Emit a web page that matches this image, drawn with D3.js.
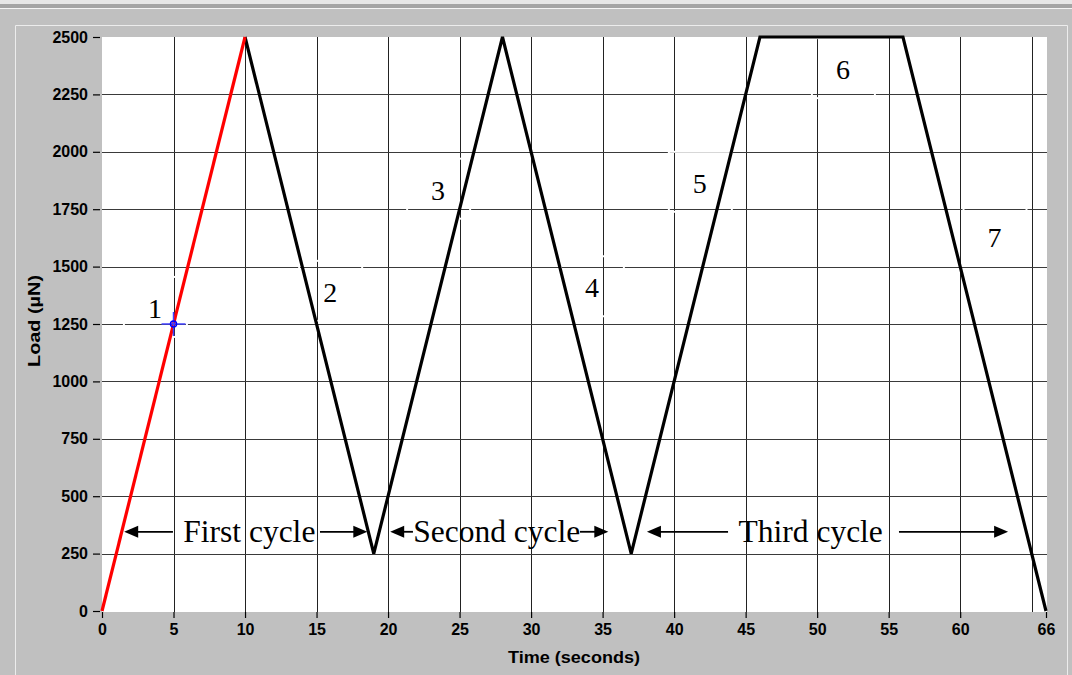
<!DOCTYPE html>
<html>
<head>
<meta charset="utf-8">
<script src="https://cdn.jsdelivr.net/npm/d3@7/dist/d3.min.js"></script>
<style>
  html, body { margin: 0; padding: 0; background: #c0c0c0; }
  svg { display: block; }
</style>
</head>
<body>
<svg id="chart" width="1072" height="675"></svg>
<script>
// ---- data ----
const timeS = [0, 10, 19, 28, 37, 46, 56, 66];
const loadUN = [0, 2500, 250, 2500, 250, 2500, 2500, 0];
const xTickValues = [0, 5, 10, 15, 20, 25, 30, 35, 40, 45, 50, 55, 60, 66];
const xGridValues = [5, 10, 15, 20, 25, 30, 35, 40, 45, 50, 55, 60, 65];
const yTickValues = [0, 250, 500, 750, 1000, 1250, 1500, 1750, 2000, 2250, 2500];
const segmentLabels = ["1", "2", "3", "4", "5", "6", "7"];
const segmentLabelT = [3.7, 15.95, 23.5, 34.25, 41.8, 51.8, 62.4];
const segmentLabelL = [1320, 1390, 1835, 1410, 1865, 2360, 1630];
const cycleNames = ["First cycle", "Second cycle", "Third cycle"];
const cycleStart = [1.55, 20.15, 38.1];
const cycleTextCenter = [10.3, 27.6, 49.55];
const cycleEnd = [18.55, 35.4, 63.35];
const cycleLeftTail = [4.96, 21.74, 43.77];
const cycleRightTail = [15.24, 33.42, 55.72];
const cycleLoad = 345;
const markerPoint = [5, 1250];

// ---- layout ----
(function () {
const svg = d3.select("#chart");
const W = 1072, H = 675;
const pL = 102, pR = 1046, pT = 37, pB = 611;

const x = d3.scaleLinear().domain([0, 66]).range([pL, pR]);
const y = d3.scaleLinear().domain([0, 2500]).range([pB, pT]);

// window frame
svg.append("rect").attr("x", 0).attr("y", 0).attr("width", W).attr("height", H).attr("fill", "#c0c0c0");
svg.append("rect").attr("x", 0).attr("y", 0).attr("width", W).attr("height", 4).attr("fill", "#e6e6e6");
svg.append("rect").attr("x", 0).attr("y", 4).attr("width", W).attr("height", 4).attr("fill", "#a4a4a4");
svg.append("rect").attr("x", 0).attr("y", 8).attr("width", W).attr("height", 1).attr("fill", "#f4f4f4");
svg.append("path").attr("d", `M15.5,675 V25.5 H1067.5 V675`)
  .attr("fill", "none").attr("stroke", "#ececec").attr("stroke-width", 1);

// plot area
svg.append("rect").attr("x", pL).attr("y", pT).attr("width", pR - pL + 1).attr("height", pB - pT + 1)
  .attr("fill", "#ffffff");

const grid = svg.append("g");
grid.selectAll("line.v").data(xGridValues).enter().append("line")
  .attr("x1", d => Math.round(x(d)) + 0.5).attr("x2", d => Math.round(x(d)) + 0.5)
  .attr("y1", pT).attr("y2", pB + 1)
  .attr("stroke", "#222").attr("stroke-width", 1);
grid.selectAll("line.h").data(yTickValues.filter(d => d > 0 && d < 2500)).enter().append("line")
  .attr("x1", pL).attr("x2", pR + 1)
  .attr("y1", d => Math.round(y(d)) + 0.5).attr("y2", d => Math.round(y(d)) + 0.5)
  .attr("stroke", "#3a3a3a").attr("stroke-width", 1);

// label boxes (white outlines that break the grid lines)
const boxes = svg.append("g");
segmentLabels.forEach((s, i) => {
  const cx = x(segmentLabelT[i]), cy = y(segmentLabelL[i]);
  boxes.append("rect").attr("x", cx - 31).attr("y", cy - 31).attr("width", 63).attr("height", 60)
    .attr("fill", "none").attr("stroke", "#ffffff").attr("stroke-width", 2);
});

// axes
const tickFont = "'Liberation Sans', Arial, sans-serif";
const xAxis = d3.axisBottom(x).tickValues(xTickValues).tickSize(6).tickPadding(4).tickFormat(d3.format("d"));
const gx = svg.append("g").attr("transform", `translate(0,${pB + 1})`).call(xAxis);
gx.select(".domain").remove();
gx.selectAll("line").attr("stroke", "#000").attr("stroke-width", 1.2);
gx.selectAll("text").attr("fill", "#000").attr("font-family", tickFont).attr("font-weight", "bold")
  .attr("font-size", 16).attr("dy", "0.8em");

const yAxis = d3.axisLeft(y).tickValues(yTickValues).tickSize(7).tickPadding(5).tickFormat(d3.format("d"));
const gy = svg.append("g").attr("transform", `translate(${pL - 2},0)`).call(yAxis);
gy.select(".domain").remove();
gy.selectAll("line").attr("stroke", "#000").attr("stroke-width", 1.2);
gy.selectAll("text").attr("fill", "#000").attr("font-family", tickFont).attr("font-weight", "bold")
  .attr("font-size", 16);

svg.append("text").attr("x", 574).attr("y", 663).attr("text-anchor", "middle")
  .attr("font-family", tickFont).attr("font-weight", "bold").attr("font-size", 16)
  .attr("textLength", 132).attr("lengthAdjust", "spacingAndGlyphs")
  .text("Time (seconds)");
svg.append("text").attr("transform", "translate(40,321) rotate(-90)").attr("text-anchor", "middle")
  .attr("font-family", tickFont).attr("font-weight", "bold").attr("font-size", 16)
  .attr("textLength", 92).attr("lengthAdjust", "spacingAndGlyphs")
  .text("Load (µN)");

// data lines
const pts = timeS.map((t, i) => [t, loadUN[i]]);
const line = d3.line().x(d => x(d[0])).y(d => y(d[1]));
svg.append("path").attr("d", line(pts.slice(1))).attr("fill", "none")
  .attr("stroke", "#000").attr("stroke-width", 3.2).attr("stroke-linejoin", "miter");
svg.append("path").attr("d", line(pts.slice(0, 2))).attr("fill", "none")
  .attr("stroke", "#ff0000").attr("stroke-width", 3.2);

// cursor marker
const mx = x(markerPoint[0]), my = y(markerPoint[1]);
svg.append("line").attr("x1", mx - 12).attr("x2", mx + 12).attr("y1", my).attr("y2", my)
  .attr("stroke", "#4040ff").attr("stroke-width", 1.5);
svg.append("line").attr("x1", mx).attr("x2", mx).attr("y1", my - 12).attr("y2", my + 12)
  .attr("stroke", "#4040ff").attr("stroke-width", 1.5);
svg.append("circle").attr("cx", mx).attr("cy", my).attr("r", 3)
  .attr("fill", "none").attr("stroke", "#0000ff").attr("stroke-width", 1.5);

// segment labels
const serif = "'Liberation Serif', 'Times New Roman', serif";
segmentLabels.forEach((s, i) => {
  svg.append("text").attr("x", x(segmentLabelT[i])).attr("y", y(segmentLabelL[i]) + 10)
    .attr("text-anchor", "middle").attr("font-family", serif).attr("font-size", 28)
    .attr("fill", "#000").text(s);
});

// cycle annotations
function arrowHead(tipX, yy, dir) {
  const L = 14, Hh = 6;
  svg.append("path")
    .attr("d", `M${tipX},${yy} L${tipX - dir * L},${yy - Hh} L${tipX - dir * L},${yy + Hh} Z`)
    .attr("fill", "#000");
}
cycleNames.forEach((name, i) => {
  const yy = y(cycleLoad);
  svg.append("line").attr("x1", x(cycleStart[i]) + 6).attr("x2", x(cycleLeftTail[i]))
    .attr("y1", yy).attr("y2", yy).attr("stroke", "#000").attr("stroke-width", 1.8);
  arrowHead(x(cycleStart[i]), yy, -1);
  svg.append("line").attr("x1", x(cycleRightTail[i])).attr("x2", x(cycleEnd[i]) - 6)
    .attr("y1", yy).attr("y2", yy).attr("stroke", "#000").attr("stroke-width", 1.8);
  arrowHead(x(cycleEnd[i]), yy, 1);
  svg.append("text").attr("x", x(cycleTextCenter[i])).attr("y", yy + 10)
    .attr("text-anchor", "middle").attr("font-family", serif).attr("font-size", 31.5)
    .attr("fill", "#000").text(name);
});
})();
</script>
</body>
</html>
